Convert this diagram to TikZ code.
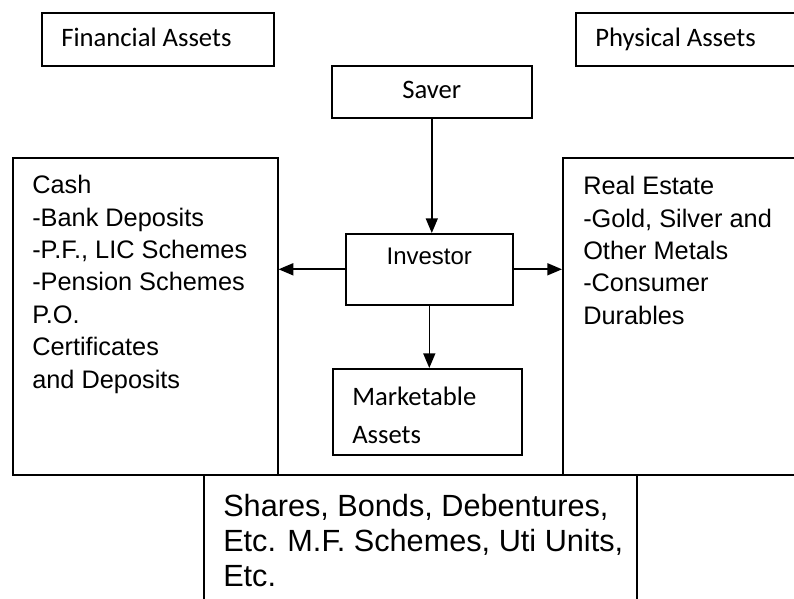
\documentclass[tikz,border=0pt]{standalone}
\usepackage{fontspec}
\setmainfont{Liberation Sans}
\newfontfamily\headfont{Carlito}
\usetikzlibrary{arrows.meta}
\newlength\px
\setlength\px{0.75pt}

\begin{document}
\begin{tikzpicture}[
  x=0.75pt, y=-0.75pt, >={Triangle[length=11pt,width=9pt]},
  box/.style={draw,line width=1.2pt,anchor=north west,inner sep=0pt},
  head/.style={font=\headfont\fontsize{20}{28.5}\selectfont,align=left,anchor=north west,inner sep=0pt},
  body/.style={font=\fontsize{19}{24.3}\selectfont,align=left,anchor=north west,inner sep=0pt},
  big/.style={font=\fontsize{23}{26.3}\selectfont,align=left,anchor=north west,inner sep=0pt},
  flow/.style={->,line width=1.2pt},
]
\useasboundingbox (0,0) rectangle (794,599);
\clip (0,0) rectangle (794,599);
% headings
\node[box,minimum width=232\px,minimum height=53\px] (fin)  at (41,12)  {};
\node[box,minimum width=230\px,minimum height=53\px] (phys) at (575,12) {};
\node[head] (fintext)  at ([shift={(20,16)}]fin.north west)  {Financial Assets};
\node[head] (phystext) at ([shift={(20,16)}]phys.north west) {Physical Assets};
% saver and investor
\node[box,minimum width=200\px,minimum height=52\px] (saver) at (331,65)  {};
\node[box,minimum width=167\px,minimum height=71\px] (inv)   at (345,233) {};
\node[head,anchor=center] (savertext) at ([yshift=2\px]saver.center) {Saver};
\node[body,font=\fontsize{18}{24}\selectfont,anchor=north] (invtext) at ([shift={(0,15)}]inv.north) {Investor};
% asset boxes
\node[box,minimum width=265\px,minimum height=317\px] (cash) at (12,157)  {};
\node[box,minimum width=240\px,minimum height=317\px] (real) at (562,157) {};
\node[box,minimum width=189\px,minimum height=86\px]  (mkt)  at (332,368) {};
\node[box,minimum width=433\px,minimum height=140\px] (shares) at (203,474) {};
\node[body] (cashtext) at ([shift={(20,18)}]cash.north west)
  {Cash\\-Bank Deposits\\-P.F., LIC Schemes\\-Pension Schemes\\P.O.\\Certificates\\and Deposits};
\node[body] (realtext) at ([shift={(21,19)}]real.north west)
  {Real Estate\\-Gold, Silver and\\Other Metals\\-Consumer\\Durables};
\node[head] (mkttext) at ([shift={(20,19)}]mkt.north west) {Marketable\\Assets};
\node[big] (sharestext) at ([shift={(20,20)}]shares.north west)
  {Shares, Bonds, Debentures,\\Etc. M.F. Schemes, Uti Units,\\Etc.};
% arrows
\draw[flow] (saver.south) -- (saver.south |- inv.north);
\draw[flow] (inv.west) -- (inv.west -| cash.east);
\draw[flow] (inv.east) -- (inv.east -| real.west);
\draw[flow] (inv.south) -- (inv.south |- mkt.north);
\end{tikzpicture}
\end{document}
